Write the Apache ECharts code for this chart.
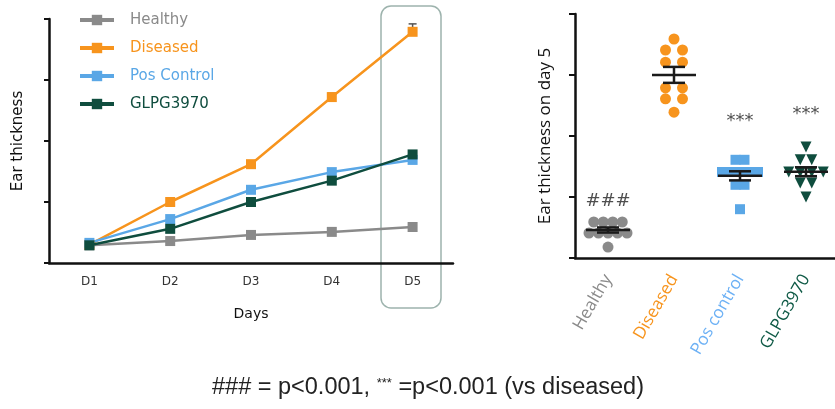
<!DOCTYPE html>
<html>
<head>
<meta charset="utf-8">
<script src="https://cdn.jsdelivr.net/npm/echarts@6/dist/echarts.min.js"></script>
<style>
  html, body { margin: 0; padding: 0; background: #fff; }
  #chart { width: 835px; height: 409px; }
</style>
</head>
<body>
<div id="chart"></div>
<script>
// time course (left panel)
const days = ['D1', 'D2', 'D3', 'D4', 'D5'];
const healthy = [0.29, 0.36, 0.46, 0.51, 0.59];
const diseased = [0.30, 1.00, 1.62, 2.72, 3.79];
const posControl = [0.33, 0.72, 1.20, 1.49, 1.69];
const glpg = [0.29, 0.56, 1.00, 1.35, 1.78];
const diseasedErr = [0, 0, 0, 0.06, 0.13];

// day 5 individual animals (right panel)
const groups = ['Healthy', 'Diseased', 'Pos control', 'GLPG3970'];
const d5Healthy = [0.59, 0.59, 0.59, 0.59, 0.41, 0.41, 0.41, 0.41, 0.41, 0.18];
const d5Diseased = [3.59, 3.41, 3.41, 3.21, 3.21, 2.79, 2.79, 2.61, 2.61, 2.39];
const d5PosControl = [1.61, 1.61, 1.41, 1.41, 1.41, 1.41, 1.41, 1.20, 1.20, 0.80];
const d5Glpg = [1.82, 1.61, 1.61, 1.41, 1.41, 1.41, 1.41, 1.23, 1.23, 1.00];
const signifText = ['###', '', '***', '***'];
const signifY = [0.97, null, 2.28, 2.39];

const colors = ['#8a8a8a', '#f7941d', '#5aa7e6', '#0f4d3e'];
const labelColors = ['#8a8a8a', '#f7941d', '#6db1f5', '#0f5a46'];

const myChart = echarts.init(document.getElementById('chart'));

// spread equal values side by side, like a dot plot
function swarm(values, gap) {
  const counts = {}, seen = {};
  values.forEach(v => { counts[v] = (counts[v] || 0) + 1; });
  return values.map(v => {
    seen[v] = seen[v] === undefined ? 0 : seen[v] + 1;
    return (seen[v] - (counts[v] - 1) / 2) * gap;
  });
}

function meanSem(values) {
  const n = values.length;
  const m = values.reduce((a, b) => a + b, 0) / n;
  const sd = Math.sqrt(values.reduce((a, b) => a + (b - m) * (b - m), 0) / (n - 1));
  return [m, sd / Math.sqrt(n)];
}

const dayFive = [d5Healthy, d5Diseased, d5PosControl, d5Glpg];
const gaps = [9.5, 17, 9, 11.5];
const shapes = ['circle', 'circle', 'rect', 'triangle'];
const sizes = [11, 11, 10, 11];

const lineSeries = [healthy, diseased, posControl, glpg].map((d, i) => ({
  name: ['Healthy', 'Diseased', 'Pos Control', 'GLPG3970'][i],
  type: 'line',
  xAxisIndex: 0,
  yAxisIndex: 0,
  data: d,
  symbol: 'rect',
  symbolSize: 10,
  z: 3 + (i === 3 ? 1 : 0),
  lineStyle: { color: colors[i], width: 2.5 },
  itemStyle: { color: colors[i] },
}));

const scatterSeries = dayFive.map((vals, gi) => {
  const offs = swarm(vals, gaps[gi]);
  return {
    type: 'scatter',
    xAxisIndex: 1,
    yAxisIndex: 1,
    symbol: shapes[gi],
    symbolRotate: gi === 3 ? 180 : 0,
    symbolSize: sizes[gi],
    itemStyle: { color: colors[gi], opacity: 1 },
    data: vals.map((v, k) => ({ value: [gi, v], symbolOffset: [offs[k], 0] })),
    z: 2,
  };
});

const summary = dayFive.map((vals, gi) => {
  const [m, s] = meanSem(vals);
  return [gi, m, m + s, m - s];
});

const option = {
  animation: false,
  textStyle: { fontFamily: 'DejaVu Sans' },
  legend: {
    left: 78,
    top: 12,
    padding: 0,
    orient: 'vertical',
    itemWidth: 34,
    itemHeight: 13,
    itemGap: 12,
    lineStyle: { width: 4 },
    textStyle: { fontSize: 15, lineHeight: 16, padding: [0, 0, 0, 11], fontFamily: 'DejaVu Sans' },
    data: ['Healthy', 'Diseased', 'Pos Control', 'GLPG3970'].map((n, i) => ({
      name: n, textStyle: { color: colors[i] },
    })),
  },
  grid: [
    { left: 49, top: 19, width: 404, height: 244, outerBoundsMode: 'none' },
    { left: 575, top: 14, width: 264, height: 244, outerBoundsMode: 'none' },
  ],
  xAxis: [
    {
      type: 'category', gridIndex: 0, data: days, boundaryGap: true,
      axisLine: { lineStyle: { color: '#111', width: 2.5 } },
      axisTick: { length: 5, lineStyle: { color: '#111', width: 2 } },
      axisLabel: { color: '#333', fontSize: 12, margin: 13, fontFamily: 'DejaVu Sans' },
      name: 'Days', nameLocation: 'middle', nameGap: 44,
      nameTextStyle: { color: '#111', fontSize: 14, fontFamily: 'DejaVu Sans' },
    },
    {
      type: 'category', gridIndex: 1, data: groups, boundaryGap: true,
      axisLine: { lineStyle: { color: '#111', width: 2.5 } },
      axisTick: { alignWithLabel: true, length: 5, lineStyle: { color: '#111', width: 2 } },
      axisLabel: {
        rotate: 60, margin: 18, fontSize: 17, fontFamily: 'Open Sans',
        color: (v, i) => labelColors[groups.indexOf(v)],
      },
    },
  ],
  yAxis: [
    {
      type: 'value', gridIndex: 0, min: 0, max: 4, interval: 1,
      axisLine: { show: true, lineStyle: { color: '#111', width: 2.5 } },
      axisTick: { show: true, length: 5, lineStyle: { color: '#111', width: 2 } },
      axisLabel: { show: false },
      splitLine: { show: false },
      name: 'Ear thickness', nameLocation: 'middle', nameGap: 23, nameRotate: 90,
      nameTextStyle: { color: '#111', fontSize: 15, fontFamily: 'DejaVu Sans' },
    },
    {
      type: 'value', gridIndex: 1, min: 0, max: 4, interval: 1,
      axisLine: { show: true, lineStyle: { color: '#111', width: 2.5 } },
      axisTick: { show: true, length: 6, lineStyle: { color: '#111', width: 2 } },
      axisLabel: { show: false },
      splitLine: { show: false },
      name: 'Ear thickness on day 5', nameLocation: 'middle', nameGap: 21, nameRotate: 90,
      nameTextStyle: { color: '#111', fontSize: 17, fontFamily: 'Open Sans' },
    },
  ],
  graphic: [
    {
      type: 'rect', z: 0,
      shape: { x: 381, y: 6, width: 60, height: 302, r: 10 },
      style: { fill: 'none', stroke: '#9db3ad', lineWidth: 1.5 },
    },
    {
      type: 'text', z: 10, x: 428, y: 388,
      style: {
        text: '### = p<0.001, {s|***} =p<0.001 (vs diseased)',
        rich: { s: { fontSize: 13, padding: [0, 0, 9, 0], fontFamily: 'Liberation Sans', fill: '#222' } },
        font: '23.5px "Liberation Sans"', fill: '#222',
        textAlign: 'center', textVerticalAlign: 'middle',
      },
    },
  ],
  series: [
    ...lineSeries,
    {
      type: 'custom', xAxisIndex: 0, yAxisIndex: 0, z: 2,
      data: diseasedErr.map((e, i) => [i, diseased[i], diseased[i] + e]).filter(d => d[2] > d[1]),
      renderItem: (params, api) => {
        const a = api.coord([api.value(0), api.value(1)]);
        const b = api.coord([api.value(0), api.value(2)]);
        const st = { stroke: '#555', lineWidth: 1.5 };
        return {
          type: 'group', children: [
            { type: 'line', shape: { x1: a[0], y1: a[1], x2: b[0], y2: b[1] }, style: st },
            { type: 'line', shape: { x1: b[0] - 4, y1: b[1], x2: b[0] + 4, y2: b[1] }, style: st },
          ],
        };
      },
    },
    ...scatterSeries,
    {
      type: 'custom', xAxisIndex: 1, yAxisIndex: 1, z: 5,
      data: summary,
      renderItem: (params, api) => {
        const c = api.coord([api.value(0), api.value(1)]);
        const hi = api.coord([api.value(0), api.value(2)]);
        const lo = api.coord([api.value(0), api.value(3)]);
        const st = { stroke: '#1a1a1a', lineWidth: 2.5 };
        return {
          type: 'group', children: [
            { type: 'line', shape: { x1: c[0] - 22, y1: c[1], x2: c[0] + 22, y2: c[1] }, style: st },
            { type: 'line', shape: { x1: c[0], y1: hi[1], x2: c[0], y2: lo[1] }, style: st },
            { type: 'line', shape: { x1: c[0] - 11, y1: hi[1], x2: c[0] + 11, y2: hi[1] }, style: st },
            { type: 'line', shape: { x1: c[0] - 11, y1: lo[1], x2: c[0] + 11, y2: lo[1] }, style: st },
          ],
        };
      },
    },
    {
      type: 'scatter', xAxisIndex: 1, yAxisIndex: 1, symbolSize: 0, z: 6,
      data: signifText.map((t, i) => [i, signifY[i], t]).filter(d => d[2] !== ''),
      label: {
        show: true, position: 'inside', formatter: p => p.value[2],
        color: '#222', fontSize: 18, fontFamily: 'DejaVu Sans',
        offset: [0, 2],
      },
    },
  ],
};

myChart.setOption(option);
</script>
</body>
</html>
